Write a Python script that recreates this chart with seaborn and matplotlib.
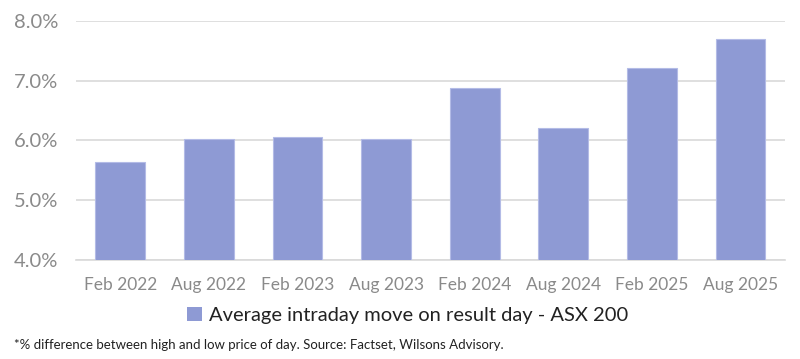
import matplotlib
matplotlib.use("Agg")
import matplotlib.pyplot as plt
import seaborn as sns
import pandas as pd
from matplotlib.ticker import FuncFormatter, FixedLocator
from matplotlib.patches import Patch

# Data
periods = ["Feb 2022", "Aug 2022", "Feb 2023", "Aug 2023",
           "Feb 2024", "Aug 2024", "Feb 2025", "Aug 2025"]
avg_move = [5.64, 6.02, 6.05, 6.02, 6.87, 6.20, 7.21, 7.70]

series_name = "Average intraday move on result day - ASX 200"
footnote = "*% difference between high and low price of day. Source: Factset, Wilsons Advisory."

bar_color = "#8e9ad4"
grid_color = "#d9d9d9"
label_color = "#8a8a8a"

sns.set_style("white")
plt.rcParams["font.family"] = ["Lato", "DejaVu Sans"]

df = pd.DataFrame({"period": periods, "value": avg_move})

fig = plt.figure(figsize=(8, 3.59), dpi=100)
ax = fig.add_axes([0.095, 0.276, 0.886, 0.666])

sns.barplot(data=df, x="period", y="value", color=bar_color, width=0.56,
            edgecolor="#b3bbe6", linewidth=0.8, saturation=1, ax=ax, zorder=3)

ax.set_ylim(4, 8)
ax.set_xlim(-0.5, len(periods) - 0.5)
ax.set_yticks([4, 5, 6, 7, 8])
ax.yaxis.set_major_formatter(FuncFormatter(lambda v, _: f"{v:.1f}%"))
ax.yaxis.grid(True, color=grid_color, linewidth=1.2, zorder=0)
ax.set_axisbelow(True)

ax.xaxis.set_minor_locator(FixedLocator([i - 0.5 for i in range(len(periods) + 1)]))
ax.tick_params(axis="x", which="major", length=0, pad=12, labelsize=12.5, labelcolor=label_color)
ax.tick_params(axis="x", which="minor", length=6, color=grid_color, width=1.2)
ax.tick_params(axis="y", length=0, pad=13, labelsize=14.5, labelcolor=label_color)

for s in ["top", "right", "left"]:
    ax.spines[s].set_visible(False)
ax.spines["bottom"].set_color(grid_color)
ax.spines["bottom"].set_linewidth(1.2)

ax.set_xlabel("")
ax.set_ylabel("")

handle = Patch(facecolor=bar_color, edgecolor="none")
fig.legend([handle], [series_name], loc="center", bbox_to_anchor=(0.51, 0.122),
           frameon=False, fontsize=14.5, handlelength=0.75, handleheight=0.75,
           handletextpad=0.35, labelcolor="#222222")

fig.text(0.018, 0.04, footnote, fontsize=9.5, color="#222222", va="center")

plt.savefig("out.png", dpi=100)
